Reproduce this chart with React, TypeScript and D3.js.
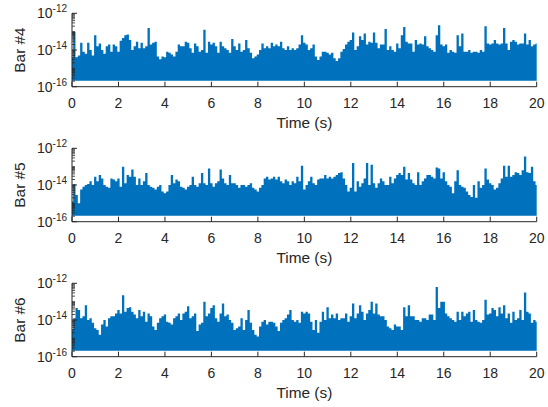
import React from 'react';
import * as d3 from 'd3';

const WIDTH = 548;
const HEIGHT = 407;

// sample grid of the traces (s)
const TIME = d3.range(201).map((i) => i / 10);
const X_TICKS = [0, 2, 4, 6, 8, 10, 12, 14, 16, 18, 20];
const Y_TICKS = [1e-16, 1e-14, 1e-12];
const PANEL_LABELS = ['Bar #4', 'Bar #5', 'Bar #6'];
const NOISE_FLOOR = 2.1e-16;

// peak amplitude per 0.1 s, as log10 values
const BAR4_LOG = [
  -14.4, -13.0, -14.4, -14.3, -13.6, -14.1, -14.2, -13.6, -14.0, -14.3,
  -13.2, -13.8, -13.65, -14.0, -14.2, -13.8, -13.7, -14.1, -13.7, -13.8,
  -14.1, -13.5, -13.35, -13.2, -13.15, -13.45, -14.0, -13.8, -13.55, -13.9,
  -13.6, -13.9, -13.8, -12.8, -13.7, -13.6, -13.55, -14.35, -14.5, -14.35,
  -14.4, -14.1, -14.15, -14.25, -14.35, -14.1, -13.7, -13.8, -13.8, -13.55,
  -13.6, -13.9, -14.15, -13.65, -13.8, -14.1, -14.0, -12.9, -14.15, -13.55,
  -13.7, -13.6, -13.8, -14.15, -13.55, -13.8, -13.9, -14.0, -14.15, -13.4,
  -13.8, -14.0, -13.65, -14.1, -14.0, -13.45, -13.9, -14.15, -14.45, -14.35,
  -14.25, -14.0, -13.65, -13.9, -13.8, -13.9, -13.6, -13.8, -13.7, -13.8,
  -13.55, -13.9, -14.0, -13.8, -14.0, -13.9, -14.0, -13.9, -13.7, -13.2,
  -13.6, -13.7, -14.0, -13.9, -13.7, -14.35, -14.55, -14.35, -14.1, -14.1,
  -14.15, -14.25, -14.15, -14.45, -14.6, -14.45, -14.1, -13.95, -13.7, -13.55,
  -13.45, -13.05, -14.0, -13.8, -13.25, -13.45, -13.1, -13.7, -13.55, -13.6,
  -13.05, -13.6, -13.9, -13.7, -13.7, -12.85, -14.0, -13.8, -14.0, -14.1,
  -13.65, -13.9, -13.2, -12.75, -13.55, -13.65, -13.65, -14.1, -13.45, -13.7,
  -13.65, -13.7, -13.25, -13.8, -13.9, -14.0, -14.1, -13.2, -12.65, -13.7,
  -13.8, -13.7, -14.15, -14.0, -14.1, -14.15, -13.2, -13.8, -13.1, -14.1,
  -14.1, -14.0, -14.15, -14.1, -14.1, -14.15, -14.0, -14.1, -12.7, -13.65,
  -13.7, -13.65, -13.45, -13.65, -13.7, -13.65, -12.8, -13.65, -14.0, -13.55,
  -13.45, -13.55, -13.7, -13.65, -13.65, -13.1, -13.7, -13.45, -13.8, -13.7,
  -13.65,
];

const BAR5_LOG = [
  -14.9, -13.95, -14.55, -15.0, -14.25, -14.1, -14.0, -13.95, -13.8, -14.0,
  -13.55, -13.8, -13.45, -13.65, -14.0, -14.1, -14.15, -13.65, -13.7, -13.8,
  -13.65, -14.1, -13.0, -13.9, -13.45, -13.55, -13.15, -13.55, -14.0, -13.65,
  -14.0, -13.8, -13.35, -14.0, -14.1, -14.15, -14.25, -14.1, -14.0, -14.35,
  -14.45, -14.35, -14.0, -13.45, -13.9, -13.7, -13.8, -14.1, -14.15, -14.25,
  -14.1, -14.0, -13.55, -14.0, -14.1, -13.9, -13.35, -13.9, -14.0, -13.1,
  -13.9, -14.1, -13.9, -13.8, -13.15, -13.65, -13.9, -14.0, -13.45, -13.9,
  -13.9, -14.0, -14.15, -14.0, -14.0, -14.1, -14.0, -13.9, -14.15, -14.25,
  -14.35, -14.15, -14.0, -13.65, -13.55, -13.7, -13.65, -13.55, -13.7, -13.55,
  -13.8, -13.9, -13.7, -13.8, -14.0, -13.8, -13.9, -13.55, -13.8, -12.95,
  -14.25, -14.0, -13.8, -13.55, -13.9, -14.0, -13.7, -13.65, -13.65, -13.45,
  -13.65, -13.55, -13.65, -13.55, -13.45, -13.35, -13.3, -13.65, -14.0, -14.35,
  -14.15, -12.8, -14.35, -13.8, -14.1, -13.9, -13.65, -12.8, -14.0, -12.9,
  -13.9, -14.15, -13.9, -13.65, -13.8, -14.0, -14.0, -13.55, -13.9, -13.65,
  -13.45, -13.35, -13.45, -13.0, -13.7, -13.35, -13.7, -13.9, -14.0, -13.3,
  -14.0, -13.8, -13.65, -13.45, -13.45, -13.55, -13.65, -13.05, -13.1, -13.65,
  -13.3, -13.8, -14.0, -14.1, -14.45, -13.8, -13.2, -14.0, -14.1, -14.15,
  -14.35, -14.55, -14.65, -14.0, -14.7, -13.8, -14.15, -14.0, -13.1, -13.7,
  -13.9, -14.0, -14.25, -14.15, -13.9, -13.65, -12.95, -13.55, -12.95, -13.55,
  -13.45, -13.3, -13.35, -13.45, -13.2, -12.45, -13.3, -13.35, -13.0, -13.8,
  -14.0,
];

const BAR6_LOG = [
  -14.55, -13.9, -13.35, -13.45, -13.9, -13.8, -13.2, -14.0, -13.9, -14.15,
  -14.45, -14.55, -14.8, -14.25, -14.0, -14.35, -13.9, -13.8, -13.8, -13.65,
  -13.45, -13.65, -12.65, -13.55, -13.35, -13.3, -13.55, -13.7, -13.9, -13.45,
  -13.8, -13.55, -14.1, -13.65, -13.8, -14.35, -14.55, -14.15, -13.9, -13.8,
  -13.7, -14.1, -14.15, -14.25, -13.9, -13.8, -13.65, -14.0, -13.65, -13.55,
  -13.25, -13.9, -13.8, -13.65, -14.6, -14.25, -14.15, -13.0, -13.8, -13.65,
  -13.35, -13.2, -13.9, -14.1, -13.65, -13.1, -13.8, -13.7, -14.0, -14.15,
  -14.55, -14.45, -14.35, -13.9, -14.55, -14.0, -13.45, -14.15, -14.55, -14.8,
  -14.9, -14.35, -14.1, -14.0, -14.25, -14.1, -14.1, -14.15, -14.35, -14.6,
  -14.15, -14.0, -13.9, -13.7, -13.45, -14.0, -14.1, -14.0, -14.15, -13.55,
  -13.65, -13.55, -13.65, -14.1, -14.55, -14.0, -14.7, -14.1, -13.55, -14.0,
  -13.3, -13.9, -13.7, -13.9, -13.65, -14.0, -13.9, -13.9, -13.65, -14.1,
  -13.8, -13.1, -13.9, -13.65, -13.2, -13.55, -14.0, -13.65, -13.45, -13.0,
  -13.65, -13.1, -13.7, -13.8, -13.8, -14.0, -14.35, -14.45, -14.55, -14.25,
  -14.35, -14.35, -14.55, -13.3, -13.8, -13.2, -13.8, -13.8, -14.0, -14.0,
  -14.1, -13.9, -13.9, -14.0, -13.7, -13.7, -14.0, -12.2, -13.35, -13.0,
  -13.0, -13.65, -13.8, -13.9, -14.0, -14.1, -13.55, -14.0, -13.55, -13.8,
  -13.65, -13.55, -14.1, -13.45, -14.0, -14.1, -14.15, -14.0, -12.9, -13.7,
  -13.65, -13.35, -13.45, -13.8, -13.3, -13.65, -13.2, -13.9, -13.65, -14.15,
  -13.55, -14.0, -13.9, -13.45, -14.0, -12.5, -13.55, -13.65, -14.15, -14.0,
  -14.1,
];

const SERIES = [BAR4_LOG, BAR5_LOG, BAR6_LOG];

const LEFT = 72;
const RIGHT = 536.7;
const FIRST_TOP = 13.3;
const PANEL_H = 73.4;
const PANEL_STEP = 135;
const AXIS_COLOR = '#262626';
const LINE_COLOR = '#0072BD';
const FONT = '"Liberation Sans", Arial, Helvetica, sans-serif';

function Panel({ label, values, top }: { label: string; values: number[]; top: number }) {
  const bottom = top + PANEL_H;
  const x = d3.scaleLinear().domain([0, 20]).range([LEFT, RIGHT]);
  const y = d3.scaleLog().domain([1e-16, 1e-12]).range([bottom, top]);

  const area = d3
    .area<number>()
    .x((_, i) => x(TIME[i]))
    .y0(y(NOISE_FLOOR))
    .y1((d) => y(Math.pow(10, d)))
    .curve(d3.curveStep);

  const minorTicks = y.ticks().filter((t) => !Y_TICKS.some((m) => Math.abs(Math.log10(t) - Math.log10(m)) < 1e-6));

  return (
    <g>
      <path d={area(values) || ''} fill={LINE_COLOR} stroke="none" />

      {/* axes, box off */}
      <line x1={LEFT} x2={LEFT} y1={top} y2={bottom} stroke={AXIS_COLOR} strokeWidth={1} />
      <line x1={LEFT} x2={RIGHT} y1={bottom} y2={bottom} stroke={AXIS_COLOR} strokeWidth={1} />

      {X_TICKS.map((t) => (
        <g key={t}>
          <line x1={x(t)} x2={x(t)} y1={bottom} y2={bottom - 5} stroke={AXIS_COLOR} strokeWidth={1} />
          <text x={x(t)} y={bottom + 21.5} textAnchor="middle" fontSize={14} fill={AXIS_COLOR} fontFamily={FONT}>
            {t}
          </text>
        </g>
      ))}

      {minorTicks.map((t, i) => (
        <line key={i} x1={LEFT} x2={LEFT + 3} y1={y(t)} y2={y(t)} stroke={AXIS_COLOR} strokeWidth={0.8} />
      ))}

      {Y_TICKS.map((t) => (
        <g key={t}>
          <line x1={LEFT} x2={LEFT + 5} y1={y(t)} y2={y(t)} stroke={AXIS_COLOR} strokeWidth={1} />
          <text x={67} y={y(t) + 5} textAnchor="end" fill={AXIS_COLOR} fontFamily={FONT}>
            <tspan fontSize={14}>10</tspan>
            <tspan fontSize={10} dy={-6}>{Math.round(Math.log10(t))}</tspan>
          </text>
        </g>
      ))}

      <text
        transform={`translate(25,${(top + bottom) / 2}) rotate(-90)`}
        textAnchor="middle"
        fontSize={15.4}
        fill={AXIS_COLOR}
        fontFamily={FONT}
      >
        {label}
      </text>
      <text x={(LEFT + RIGHT) / 2} y={bottom + 41} textAnchor="middle" fontSize={15.4} fill={AXIS_COLOR} fontFamily={FONT}>
        Time (s)
      </text>
    </g>
  );
}

export default function App() {
  return (
    <svg
      width={WIDTH}
      height={HEIGHT}
      style={{ position: 'absolute', left: 0, top: 0, background: '#fff' }}
    >
      <rect width={WIDTH} height={HEIGHT} fill="#fff" />
      {SERIES.map((values, k) => (
        <Panel key={k} label={PANEL_LABELS[k]} values={values} top={FIRST_TOP + k * PANEL_STEP} />
      ))}
    </svg>
  );
}
